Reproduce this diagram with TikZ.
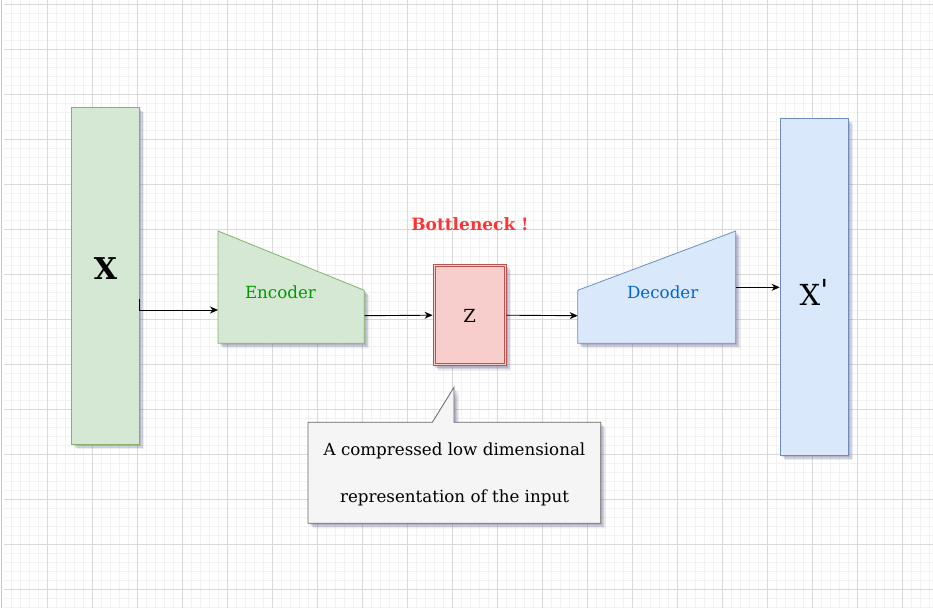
\documentclass[tikz,border=0pt]{standalone}
\usepackage{fontspec}
\setmainfont{DejaVu Serif}
\usetikzlibrary{arrows.meta,shadows,calc}
\definecolor{gminor}{HTML}{F2F2F2}
\definecolor{gmajor}{HTML}{D9D9D9}
\definecolor{gfill}{HTML}{D5E8D4}
\definecolor{gstroke}{HTML}{82B366}
\definecolor{bfill}{HTML}{DAE8FC}
\definecolor{bstroke}{HTML}{6C8EBF}
\definecolor{rfill}{HTML}{F8CECC}
\definecolor{rstroke}{HTML}{B85450}
\definecolor{cfill}{HTML}{F5F5F5}
\definecolor{cstroke}{HTML}{666666}
\definecolor{enctext}{HTML}{009900}
\definecolor{dectext}{HTML}{0066CC}
\definecolor{bntext}{HTML}{FF3333}
\definecolor{shadowc}{HTML}{6A6A90}
\tikzset{
  shad/.style={drop shadow={shadow xshift=5pt,shadow yshift=-5pt,opacity=0.12,fill=shadowc},
               drop shadow={shadow xshift=3.5pt,shadow yshift=-3.5pt,opacity=0.22,fill=shadowc},
               drop shadow={shadow xshift=2pt,shadow yshift=-2pt,opacity=0.25,fill=shadowc}},
  conn/.style={draw=black,line width=0.9pt,-{Stealth[length=8pt,width=7pt,inset=2.5pt]}},
  lbl/.style={inner sep=0pt,font=\fontsize{16.7}{20}\selectfont},
  tallbox/.style={rectangle,draw,line width=0.8pt,inner sep=0pt,shad},
}
\begin{document}
\begin{tikzpicture}[x=1pt,y=-1pt]
\useasboundingbox (0,0) rectangle (933,608);
\fill[white] (0,0) rectangle (933,608);
% grid
\foreach \i in {0,...,103} {\draw[gminor,line width=1pt] ({2.5+9*\i},0) -- ({2.5+9*\i},608);}
\foreach \i in {0,...,67} {\draw[gminor,line width=1pt] (4,{4.3+9*\i}) -- (933,{4.3+9*\i});}
\foreach \i in {0,...,20} {\draw[gmajor,line width=0.8pt] ({2.5+45*\i},0) -- ({2.5+45*\i},608);}
\foreach \i in {0,...,13} {\draw[gmajor,line width=0.8pt] (4,{4.3+45*\i}) -- (933,{4.3+45*\i});}
\fill[white] (0,0) rectangle (3.5,608);
\draw[gray!45,line width=1.2pt] (1.5,0) -- (1.5,608);

% X input
\node[tallbox,draw=gstroke,fill=gfill,minimum width=67.6pt,minimum height=337pt] (X) at (105.5,275.8) {};
\node[font=\fontsize{30}{32}\selectfont\bfseries,inner sep=0pt] (Xl) at (105.5,268.5) {X};

% Encoder
\filldraw[draw=gstroke,fill=gfill,line width=0.8pt,shad] (218,231) -- (364.3,290.3) -- (364.3,343.3) -- (218,343.3) -- cycle;
\coordinate (encin) at (218,310);
\coordinate (encout) at (364.3,315.7);
\node[lbl,text=enctext] (enc) at (280.5,292) {Encoder};

% Z
\node[rectangle,draw=rstroke,fill=rfill,line width=0.8pt,
      minimum width=73pt,minimum height=101pt,inner sep=0pt,shad] (Z) at (469.5,315.2) {};
\draw[rstroke,line width=0.8pt] ($(Z.south west)+(2.5,-2.5)$) rectangle ($(Z.north east)+(-2.5,2.5)$);
\node[lbl,font=\fontsize{18}{20}\selectfont] (Zl) at (469.5,315.7) {Z};
\node[inner sep=0pt,font=\fontsize{17}{19}\selectfont\bfseries,text=bntext] (bn) at (470,224.3) {Bottleneck !};

% Decoder
\filldraw[draw=bstroke,fill=bfill,line width=0.8pt,shad] (577.7,290.3) -- (735.7,231) -- (735.7,343.3) -- (577.7,343.3) -- cycle;
\coordinate (decin) at (577.7,315.7);
\coordinate (decout) at (735.7,287.3);
\node[lbl,text=dectext] (dec) at (662.7,292.3) {Decoder};

% X'
\node[tallbox,draw=bstroke,fill=bfill,minimum width=68.3pt,minimum height=336.6pt] (Xp) at (814.2,287) {};
\node[font=\fontsize{29}{32}\selectfont,inner sep=0pt] (Xpl) at (814,292) {X\raisebox{5pt}{\textquotesingle}};

% connectors
\coordinate (xout) at (139.3,299);
\draw[conn] (xout) |- (encin);
\draw[conn] (encout) -- (Z.west);
\draw[conn] (Z.east) -- (decin);
\draw[conn] (decout) -- (decout -| Xp.west);

% callout
\filldraw[draw=cstroke,fill=cfill,line width=0.8pt,shad]
  (308,422.3) -- (432.3,422.3) -- (454,387.3) -- (454,422.3) -- (600.7,422.3) -- (600.7,523.3) -- (308,523.3) -- cycle;
\node[lbl] (c1) at (454.5,451) {A compressed low dimensional};
\node[lbl] (c2) at (454.5,498.3) {representation of the input};
\end{tikzpicture}
\end{document}
